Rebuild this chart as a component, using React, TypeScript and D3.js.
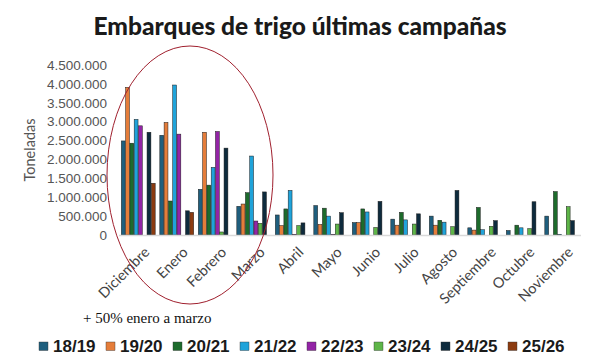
import React, { useRef, useEffect } from "react";
import * as d3 from "d3";

const months = [
  "Diciembre", "Enero", "Febrero", "Marzo", "Abril", "Mayo",
  "Junio", "Julio", "Agosto", "Septiembre", "Octubre", "Noviembre",
];
const seasons = ["18/19", "19/20", "20/21", "21/22", "22/23", "23/24", "24/25", "25/26"];
const colors = ["#1f5f7e", "#e57d3a", "#1d6b2c", "#1fa3da", "#9324a6", "#5eb548", "#0e2b3d", "#8c3b10"];

// toneladas por mes, una lista por campaña
const s1819 = [2490000, 2640000, 1210000, 760000, 530000, 780000, 330000, 420000, 500000, 190000, 120000, 500000];
const s1920 = [3910000, 2980000, 2720000, 820000, 250000, 280000, 330000, 260000, 260000, 130000, 0, 0];
const s2021 = [2430000, 900000, 1320000, 1120000, 690000, 710000, 690000, 600000, 390000, 730000, 260000, 1150000];
const s2122 = [3060000, 3970000, 1790000, 2090000, 1180000, 500000, 610000, 400000, 340000, 140000, 190000, 20000];
const s2223 = [2890000, 2670000, 2740000, 370000, 20000, 20000, 0, 0, 0, 0, 0, 0];
const s2324 = [0, 0, 80000, 310000, 250000, 290000, 200000, 290000, 220000, 230000, 170000, 750000];
const s2425 = [2720000, 640000, 2300000, 1140000, 320000, 590000, 890000, 560000, 1180000, 380000, 880000, 380000];
const s2526 = [1370000, 600000, 0, 0, 0, 0, 0, 0, 0, 0, 0, 0];
const series = [s1819, s1920, s2021, s2122, s2223, s2324, s2425, s2526];

const yTicks = [0, 500000, 1000000, 1500000, 2000000, 2500000, 3000000, 3500000, 4000000, 4500000];

const App = () => {
  const svgRef = useRef<SVGSVGElement>(null);

  useEffect(() => {
    if (!svgRef.current) return;
    const svg = d3.select(svgRef.current);
    svg.selectAll("*").remove();

    const width = 600;
    const height = 360;

    const x0 = d3.scaleBand<string>().domain(months).range([119, 581]).paddingInner(0.12).paddingOuter(0.06);
    const x1 = d3.scaleBand<string>().domain(seasons).range([0, x0.bandwidth()]).paddingInner(0.1);
    const y = d3.scaleLinear().domain([0, 4500000]).range([235, 65]);

    const fmt = (v: number) => (v === 0 ? "0" : d3.format(",")(v).replace(/,/g, "."));

    svg.attr("width", width).attr("height", height);

    svg.append("rect").attr("width", width).attr("height", height).attr("fill", "#fff");

    // titulo
    svg
      .append("text")
      .attr("x", 300)
      .attr("y", 35)
      .attr("text-anchor", "middle")
      .attr("font-family", "Lato, sans-serif")
      .attr("font-weight", 900)
      .attr("font-size", 24.5)
      .attr("fill", "#1a1a1a")
      .text("Embarques de trigo últimas campañas");

    // eje y
    svg
      .append("g")
      .selectAll("text")
      .data(yTicks)
      .join("text")
      .attr("x", 107)
      .attr("y", (d) => y(d))
      .attr("dy", "0.35em")
      .attr("text-anchor", "end")
      .attr("font-family", "Liberation Sans, Arial, sans-serif")
      .attr("font-size", 13.5)
      .attr("fill", "#555")
      .text(fmt);

    svg
      .append("text")
      .attr("transform", "translate(35,150) rotate(-90)")
      .attr("text-anchor", "middle")
      .attr("font-family", "Lato, sans-serif")
      .attr("font-size", 14.5)
      .attr("fill", "#555")
      .text("Toneladas");

    // barras
    const groups = svg
      .append("g")
      .selectAll("g")
      .data(months)
      .join("g")
      .attr("transform", (m) => `translate(${x0(m)},0)`);

    groups
      .selectAll("rect")
      .data((_, i) => seasons.map((s, k) => ({ s, k, v: series[k][i] })).filter((d) => d.v > 0))
      .join("rect")
      .attr("x", (d) => x1(d.s) as number)
      .attr("y", (d) => y(d.v))
      .attr("width", x1.bandwidth())
      .attr("height", (d) => y(0) - y(d.v))
      .attr("fill", (d) => colors[d.k])
      .attr("stroke", "#1c1c1c")
      .attr("stroke-width", 0.5);

    // eje x
    svg
      .append("line")
      .attr("x1", 119)
      .attr("x2", 581)
      .attr("y1", y(0) + 0.5)
      .attr("y2", y(0) + 0.5)
      .attr("stroke", "#d9d9d9")
      .attr("stroke-width", 1.5);

    svg
      .append("g")
      .selectAll("text")
      .data(months)
      .join("text")
      .attr("transform", (m) => `translate(${(x0(m) as number) + x0.bandwidth() / 2 + 5},${y(0) + 11}) rotate(-45)`)
      .attr("text-anchor", "end")
      .attr("dy", "0.7em")
      .attr("font-family", "Lato, sans-serif")
      .attr("font-size", 14.5)
      .attr("fill", "#444")
      .text((m) => m);

    // anotacion
    svg
      .append("ellipse")
      .attr("cx", 190)
      .attr("cy", 175)
      .attr("rx", 83)
      .attr("ry", 129)
      .attr("fill", "none")
      .attr("stroke", "#a0202e")
      .attr("stroke-width", 1);

    svg
      .append("text")
      .attr("x", 83)
      .attr("y", 323)
      .attr("font-family", "Liberation Serif, serif")
      .attr("font-size", 15)
      .attr("fill", "#111")
      .text("+ 50% enero a marzo");

    // leyenda
    const legend = svg
      .append("g")
      .selectAll("g")
      .data(seasons)
      .join("g")
      .attr("transform", (_, i) => `translate(${39 + i * 67},342)`);

    legend
      .append("rect")
      .attr("width", 9)
      .attr("height", 8.5)
      .attr("fill", (_, i) => colors[i])
      .attr("stroke", "#333")
      .attr("stroke-width", 0.4);

    legend
      .append("text")
      .attr("x", 14)
      .attr("y", 4.5)
      .attr("dy", "0.35em")
      .attr("font-family", "Liberation Sans, Arial, sans-serif")
      .attr("font-weight", "bold")
      .attr("font-size", 17)
      .attr("fill", "#1a1a1a")
      .text((s) => s);
  }, []);

  return <svg ref={svgRef} style={{ position: "absolute", left: 0, top: 0, display: "block" }}></svg>;
};

export default App;
